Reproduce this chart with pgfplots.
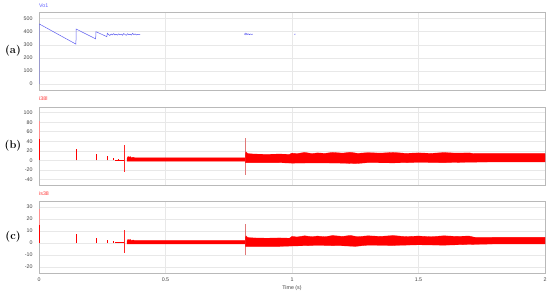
\documentclass[border=0pt]{standalone}
\usepackage{fontspec}
\setsansfont{Liberation Sans}
\usepackage{pgfplots}
\pgfplotsset{compat=1.18}
\definecolor{vblue}{RGB}{95,95,240}
\definecolor{lblue}{RGB}{100,100,255}
\definecolor{spk}{RGB}{225,120,120}
\pgfplotsset{
  panel/.style={
    scale only axis, width=506pt, xmin=0, xmax=2,
    xtick={0,0.5,1,1.5,2}, xticklabels={},
    grid=major, major grid style={gray!18, line width=0.5pt},
    axis line style={gray!55, line width=0.7pt},
    tick style={draw=none},
    ticklabel style={font=\sffamily\fontsize{5.3}{6}\selectfont, text=black!75},
    /pgf/number format/assume math mode=true,
    yticklabel style={xshift=-3pt},
    unbounded coords=jump,
  }
}
\begin{document}
\begin{tikzpicture}
\useasboundingbox (0,0) rectangle (550pt,-292pt);

% (a) Vo1
\begin{axis}[panel, at={(39pt,-90pt)}, anchor=south west, height=78pt,
  ymin=-45, ymax=550, ytick={0,100,200,300,400,500}]
\addplot[vblue, line width=0.5pt] coordinates {
  (0,0) (0,460) (0.146,305) (0.147,420) (0.224,345) (0.225,400) (0.268,362)
  (0.270,388) (0.275,378) (0.280,371) (0.285,382) (0.290,376) (0.295,385)
  (0.300,375) (0.305,380) (0.310,374) (0.315,383) (0.320,376) (0.325,381)
  (0.330,373) (0.335,386) (0.340,378) (0.345,372) (0.350,384) (0.355,377)
  (0.360,381) (0.365,374) (0.370,387) (0.375,377) (0.380,383) (0.385,375)
  (0.390,380) (0.395,378) (0.400,380)
  (nan,nan)
  (0.812,378) (0.815,388) (0.818,376) (0.821,386) (0.824,379) (0.828,383)
  (0.832,377) (0.836,382) (0.840,379) (0.845,381)
  (nan,nan)
  (1.008,380) (1.014,381)
};
\end{axis}

% (b) i38l
\begin{axis}[panel, at={(39pt,-185pt)}, anchor=south west, height=78pt,
  ymin=-52, ymax=112, ytick={-40,-20,0,20,40,60,80,100}]
\addplot[red!45, line width=0.6pt] coordinates {(0,45) (0,82)};
\addplot[red, line width=0.8pt] coordinates {
  (0,0) (0,45) (nan,nan)
  (0.148,0) (0.148,23) (nan,nan)
  (0.227,0) (0.227,13) (nan,nan)
  (0.269,0) (0.269,8) (nan,nan)
  (0.293,0) (0.293,5) (nan,nan)
  (0.313,0) (0.313,3) (nan,nan)
  (0.30,0.5) (0.335,0.5) (nan,nan)
};
\addplot[red!85, line width=0.5pt] coordinates {(0.335,-24) (0.335,32)};
\addplot[spk, line width=0.4pt] coordinates {(0.814,-30) (0.814,47)};
\addplot[red, fill=red, line width=0.3pt] coordinates {
  (0.348,4) (0.352,8) (0.356,6) (0.360,8) (0.366,5) (0.372,6.5) (0.380,5)
  (0.45,5) (0.55,5) (0.65,5) (0.75,5) (0.814,5)
  (0.814,-2) (0.70,-2) (0.60,-2) (0.50,-2) (0.40,-2) (0.348,-2)
} -- cycle;
\addplot[red, fill=red, line width=0.3pt] coordinates {
  (0.816,12) (0.818,18) (0.825,14) (0.85,13) (0.90,12.5) (0.95,13) (0.99,12.5)
  (1.00,15) (1.02,14) (1.05,16.5) (1.08,14) (1.10,15.5) (1.13,14.5) (1.16,16.5)
  (1.20,15) (1.23,16.8) (1.26,14.5) (1.30,16) (1.35,15) (1.40,16.5) (1.45,14.5)
  (1.50,15.5) (1.55,14.5) (1.60,16.2) (1.65,15) (1.70,15.5) (1.72,14)
  (1.80,14) (1.90,14) (2.00,14)
  (2.00,-3.5) (1.90,-3.5) (1.80,-3.5) (1.70,-4) (1.60,-5) (1.50,-4.5)
  (1.40,-5.5) (1.30,-5) (1.25,-7) (1.20,-6) (1.10,-5.5) (1.00,-6)
  (0.95,-5) (0.85,-5) (0.816,-5)
} -- cycle;
\end{axis}

% (c) is38
\begin{axis}[panel, at={(39pt,-273pt)}, anchor=south west, height=72pt,
  ymin=-25, ymax=35, ytick={-20,-10,0,10,20,30},
  xticklabels={0,0.5,1,1.5,2},
  xticklabel style={yshift=-1pt},
  xlabel={Time (s)},
  xlabel style={font=\sffamily\fontsize{5.3}{6}\selectfont, text=black!75, yshift=2pt}]
\addplot[red!45, line width=0.6pt] coordinates {(0,15) (0,28)};
\addplot[red, line width=0.8pt] coordinates {
  (0,0) (0,15) (nan,nan)
  (0.148,0) (0.148,7.5) (nan,nan)
  (0.227,0) (0.227,4.5) (nan,nan)
  (0.269,0) (0.269,2.5) (nan,nan)
  (0.293,0) (0.293,1.5) (nan,nan)
  (0.313,0) (0.313,1) (nan,nan)
  (0.30,0.2) (0.335,0.2) (nan,nan)
};
\addplot[red!85, line width=0.5pt] coordinates {(0.335,-8) (0.335,11)};
\addplot[spk, line width=0.4pt] coordinates {(0.814,-9.6) (0.814,15.5)};
\addplot[red, fill=red, line width=0.3pt] coordinates {
  (0.348,1.8) (0.352,3) (0.356,2.2) (0.360,3) (0.366,2) (0.372,2.5) (0.380,2)
  (0.45,2) (0.55,2) (0.65,2) (0.75,2) (0.814,2)
  (0.814,-0.8) (0.70,-0.8) (0.60,-0.8) (0.50,-0.8) (0.40,-0.8) (0.348,-0.8)
} -- cycle;
\addplot[red, fill=red, line width=0.3pt] coordinates {
  (0.816,4) (0.818,6) (0.825,4.5) (0.85,4.2) (0.90,4) (0.95,4.2) (0.99,4)
  (1.00,5.5) (1.02,5) (1.05,6) (1.08,5.2) (1.10,5.8) (1.13,5.2) (1.16,6.2)
  (1.20,5.5) (1.23,6.3) (1.26,5.2) (1.30,6) (1.35,5.5) (1.40,6.2) (1.45,5.3)
  (1.50,5.8) (1.55,5.2) (1.60,6) (1.65,5.5) (1.70,5.8) (1.72,4.8)
  (1.80,4.7) (1.90,4.7) (2.00,4.7)
  (2.00,-0.8) (1.90,-0.8) (1.80,-0.8) (1.70,-1.2) (1.60,-1.8) (1.50,-1.5)
  (1.40,-2) (1.30,-1.8) (1.25,-2.8) (1.20,-2.3) (1.10,-2) (1.00,-2.5)
  (0.95,-2.8) (0.85,-2.8) (0.816,-2.8)
} -- cycle;
\end{axis}

% series names and panel labels
\node[anchor=west, font=\sffamily\fontsize{5.3}{6}\selectfont, text=lblue, inner sep=0] at (39pt,-5.5pt) {Vo1};
\node[anchor=west, font=\sffamily\fontsize{5.3}{6}\selectfont, text=red!80, inner sep=0] at (39pt,-98.5pt) {i38l};
\node[anchor=west, font=\sffamily\fontsize{5.3}{6}\selectfont, text=red!80, inner sep=0] at (39pt,-193.5pt) {is38};
\node[font=\bfseries\fontsize{11}{12}\selectfont] at (13pt,-51pt) {(a)};
\node[font=\bfseries\fontsize{11}{12}\selectfont] at (13pt,-146pt) {(b)};
\node[font=\bfseries\fontsize{11}{12}\selectfont] at (13pt,-237pt) {(c)};
\end{tikzpicture}
\end{document}
